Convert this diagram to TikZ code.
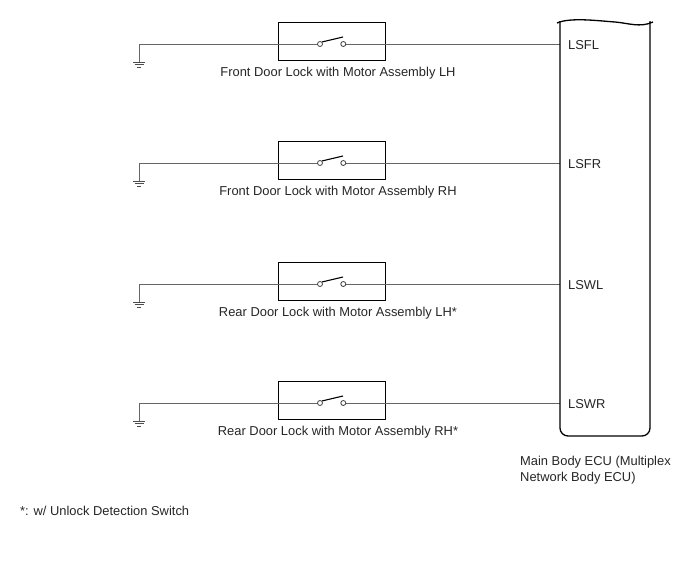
\documentclass[tikz,border=0pt]{standalone}
\usepackage{fontspec}
\setmainfont{Liberation Sans}
\usetikzlibrary{calc}

\begin{document}
\begin{tikzpicture}[x=1pt,y=-1pt,
  font=\fontsize{12.9}{16}\selectfont,
  wire/.style={draw=black!60, line width=0.9pt},
  swbox/.style={draw, line width=1pt, minimum width=107pt, minimum height=38pt, inner sep=0pt},
  contact/.style={circle, draw=black!75, fill=white, line width=0.8pt, minimum size=5pt, inner sep=0pt},
  lever/.style={draw=black, line width=1.1pt},
  gndline/.style={draw=black!70, line width=0.9pt},
  ecu/.style={draw, line width=1.3pt},
  txt/.style={inner sep=0pt, text=black!85}]
\useasboundingbox (0,0) rectangle (688,560);
%\draw[help lines] (0,0) grid (688,560);

% switches with ground
\foreach \y/\i/\pin/\name in {44/1/LSFL/{Front Door Lock with Motor Assembly LH},
                               163/2/LSFR/{Front Door Lock with Motor Assembly RH},
                               284/3/LSWL/{Rear Door Lock with Motor Assembly LH*},
                               403/4/LSWR/{Rear Door Lock with Motor Assembly RH*}}{
  \coordinate (gnd\i) at (139,\y+18);
  \coordinate (ecu\i) at (560,\y);
  \coordinate (tip\i) at (343,\y-7);
  \node[swbox] (sw\i) at (331.5,\y-3) {};
  \node[txt] (lbl\i) at (338,\y+29.5) {\name};
  \node[txt, anchor=west] (pin\i) at (568,\y+1) {\pin};
  \draw[wire] (gnd\i) |- (320,\y) node[contact] (ca\i) {};
  \draw[wire] (ecu\i) -- (343.3,\y) node[contact] (cb\i) {};
  \draw[lever] (ca\i.north east) -- (tip\i);
  \draw[gndline] ($(gnd\i)+(-6,0)$) -- ($(gnd\i)+(6,0)$)
                 ($(gnd\i)+(-4.5,2.5)$) -- ($(gnd\i)+(4.5,2.5)$)
                 ($(gnd\i)+(-2,5)$) -- ($(gnd\i)+(2,5)$);
}

% ECU
\draw[ecu] (557,23) .. controls (570,17) and (600,21) .. (615,22)
                    .. controls (628,23) and (640,28) .. (653,22);
\draw[ecu, rounded corners=8pt] (560,21) -- (560,436) -- (650,436) -- (650,21);
\node[txt, anchor=west, align=left] (ecuname) at (520,470.5) {Main Body ECU (Multiplex\\Network Body ECU)};

\node[txt, anchor=west] (note) at (20,511) {*: w/ Unlock Detection Switch};
\end{tikzpicture}
\end{document}
